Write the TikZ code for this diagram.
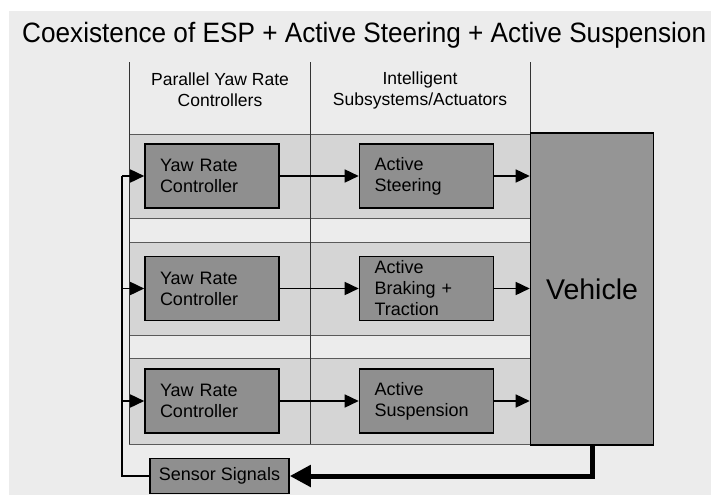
\documentclass[tikz,border=0pt]{standalone}
\usepackage{fontspec}
\setmainfont{Liberation Sans}
\usetikzlibrary{arrows.meta}
\definecolor{pagebg}{HTML}{ECECEC}
\definecolor{bandfill}{HTML}{D5D5D5}
\definecolor{bandedge}{HTML}{5A5A5A}
\definecolor{blockfill}{HTML}{8F8F8F}
\definecolor{vehfill}{HTML}{959595}
\begin{document}
\begin{tikzpicture}[x=1pt,y=-1pt,
  divider/.style={draw=black!80, line width=0.9pt},
  band/.style={fill=bandfill, draw=bandedge, line width=0.9pt},
  hdr/.style={font=\fontsize{17.5}{21}\selectfont, align=center, inner sep=0pt},
  block/.style={draw=black, line width=1.6pt, fill=blockfill,
    minimum width=134pt, minimum height=64pt, text width=104pt,
    inner xsep=15pt, inner ysep=0pt, align=left,
    font=\fontsize{18}{21}\selectfont},
  sensorbox/.style={draw=black, line width=1.6pt, fill=blockfill,
    minimum width=139pt, minimum height=35pt, inner sep=0pt,
    font=\fontsize{18}{21}\selectfont},
  vehbox/.style={draw=black, line width=1.6pt, fill=vehfill,
    minimum width=123pt, minimum height=312pt, inner sep=0pt,
    font=\fontsize{28.5}{32}\selectfont},
  conn/.style={line width=1.6pt, -{Triangle[length=14pt,width=13pt]}},
  wire/.style={line width=1.6pt},
  feedback/.style={line width=5pt, -{Triangle[length=21pt,width=21pt]}}
]
% canvas
\fill[white] (0,0) rectangle (714,495);
\fill[pagebg] (9,11) rectangle (711,495);
\useasboundingbox (0,0) rectangle (714,495);

% title, set slightly condensed
\node[anchor=base west, inner sep=0pt, xscale=0.935, font=\fontsize{28}{32}\selectfont] (title) at (22,43)
  {Coexistence of ESP + Active Steering + Active Suspension};

% row bands
\draw[band] (129,134) rectangle (530,218);
\draw[band] (129,242) rectangle (530,335);
\draw[band] (129,358) rectangle (530,444);

% column dividers
\draw[divider] (129,62) -- (129,444);
\draw[divider] (310,62) -- (310,444);
\draw[divider] (530,62) -- (530,134);

% column headers
\node[hdr] (h1) at (220,90) {Parallel Yaw Rate\\Controllers};
\node[hdr] (h2) at (420,90) {Intelligent\\Subsystems/Actuators};

% controllers
\node[block] (c1) at (212,176) {Yaw Rate\\Controller};
\node[block] (c2) at (212,288.5) {Yaw Rate\\Controller};
\node[block] (c3) at (212,401) {Yaw Rate\\Controller};

% actuators
\node[block] (a1) at (426.5,176) {Active\\Steering};
\node[block] (a2) at (426.5,288.5) {Active\\Braking +\\Traction};
\node[block] (a3) at (426.5,401) {Active\\Suspension};

% plant and sensors
\node[vehbox] (veh) at (592,289) {Vehicle};
\node[sensorbox] (sen) at (219.5,476) {Sensor Signals};

% forward paths
\foreach \i in {1,2,3}{
  \draw[conn] (c\i.east) -- (a\i.west);
  \draw[conn] (a\i.east) -- (a\i.east -| veh.west);
}

% feedback loop
\draw[feedback] (veh.south) |- (sen.east);
\coordinate (loop) at (122,476);
\draw[wire] (sen.west) -- (loop) -- (loop |- c1.west);
\foreach \i in {1,2,3}{
  \draw[conn] (loop |- c\i.west) -- (c\i.west);
}
\end{tikzpicture}
\end{document}
